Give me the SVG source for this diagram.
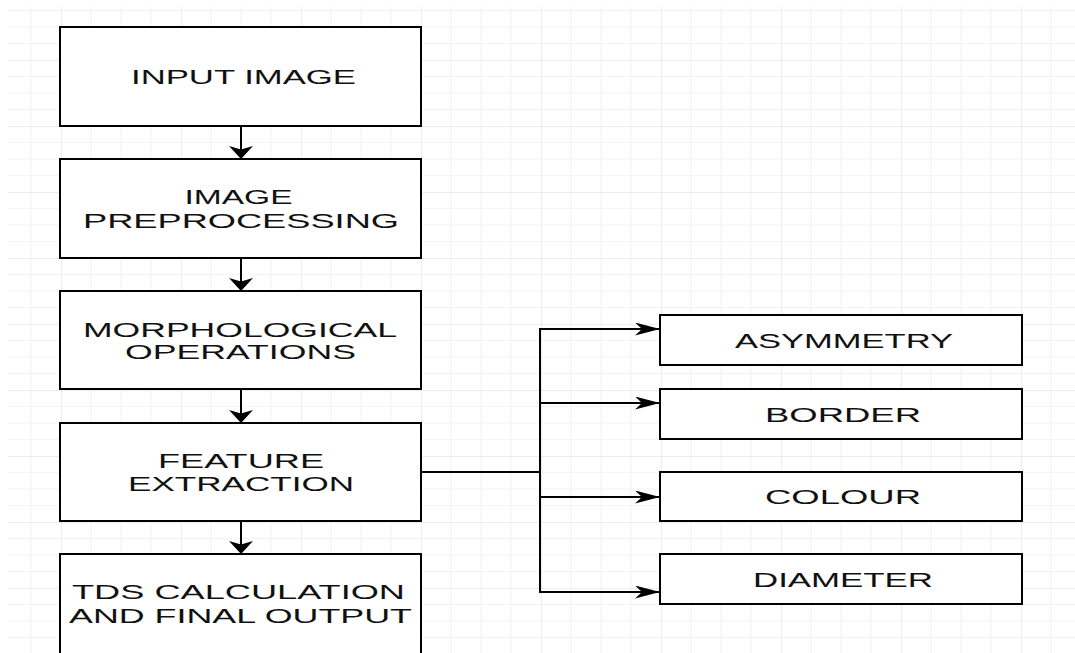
<svg xmlns="http://www.w3.org/2000/svg" width="1075" height="653" viewBox="0 0 1075 653">
  <defs>
    <pattern id="grid" patternUnits="userSpaceOnUse" x="61" y="60" width="120" height="66">
      <path d="M30,0 V66 M60,0 V66 M90,0 V66 M0,16.5 H120 M0,33 H120 M0,49.5 H120" stroke="#f4f4f4" stroke-width="1.2" fill="none"/>
      <path d="M0,0 V66 M0,0 H120" stroke="#e6e6e6" stroke-width="1.4" fill="none"/>
    </pattern>
    <marker id="arrowDown" markerUnits="userSpaceOnUse" viewBox="0 -12 13 24" refX="13" refY="0" markerWidth="13" markerHeight="24" orient="auto">
      <path d="M0,-12 L13,0 L0,12 L3.5,0 Z" fill="#000"/>
    </marker>
    <marker id="arrowRight" markerUnits="userSpaceOnUse" viewBox="0 -6.5 25 13" refX="25" refY="0" markerWidth="25" markerHeight="13" orient="auto">
      <path d="M0,-6.5 L25,0 L0,6.5 L7,0 Z" fill="#000"/>
    </marker>
  </defs>
  <style>
    .box { fill: #ffffff; stroke: #000000; stroke-width: 2; }
    .lbl { font-family: "Liberation Sans", Arial, sans-serif; font-size: 20px; fill: #111111; text-anchor: middle; }
    .edge { fill: none; stroke: #000000; stroke-width: 2; }
  </style>
  <rect x="0" y="0" width="1075" height="653" fill="#ffffff"/>
  <rect x="8" y="7" width="1067" height="646" fill="url(#grid)"/>

  <g id="connectors">
    <line class="edge" x1="241" y1="126" x2="241" y2="159" marker-end="url(#arrowDown)"/>
    <line class="edge" x1="241" y1="258" x2="241" y2="291" marker-end="url(#arrowDown)"/>
    <line class="edge" x1="241" y1="389" x2="241" y2="423" marker-end="url(#arrowDown)"/>
    <line class="edge" x1="241" y1="521" x2="241" y2="554" marker-end="url(#arrowDown)"/>
    <path class="edge" d="M421,472 H540 V329 H660" marker-end="url(#arrowRight)"/>
    <path class="edge" d="M421,472 H540 V403 H660" marker-end="url(#arrowRight)"/>
    <path class="edge" d="M421,472 H540 V497 H660" marker-end="url(#arrowRight)"/>
    <path class="edge" d="M421,472 H540 V592 H660" marker-end="url(#arrowRight)"/>
  </g>

  <g id="input-image">
    <rect class="box" x="60" y="27" width="361" height="99"/>
    <text class="lbl" x="243.5" y="84" textLength="225" lengthAdjust="spacingAndGlyphs">INPUT IMAGE</text>
  </g>
  <g id="image-preprocessing">
    <rect class="box" x="60" y="159" width="361" height="99"/>
    <text class="lbl" x="238.5" y="204" textLength="108" lengthAdjust="spacingAndGlyphs">IMAGE</text>
    <text class="lbl" x="241" y="228" textLength="316" lengthAdjust="spacingAndGlyphs">PREPROCESSING</text>
  </g>
  <g id="morphological-operations">
    <rect class="box" x="60" y="291" width="361" height="98"/>
    <text class="lbl" x="240" y="337" textLength="314" lengthAdjust="spacingAndGlyphs">MORPHOLOGICAL</text>
    <text class="lbl" x="240.5" y="359" textLength="231" lengthAdjust="spacingAndGlyphs">OPERATIONS</text>
  </g>
  <g id="feature-extraction">
    <rect class="box" x="60" y="423" width="361" height="98"/>
    <text class="lbl" x="241" y="468" textLength="166" lengthAdjust="spacingAndGlyphs">FEATURE</text>
    <text class="lbl" x="241" y="491" textLength="226" lengthAdjust="spacingAndGlyphs">EXTRACTION</text>
  </g>
  <g id="tds-calculation">
    <rect class="box" x="60" y="554" width="361" height="110"/>
    <text class="lbl" x="238.5" y="599" textLength="333" lengthAdjust="spacingAndGlyphs">TDS CALCULATION</text>
    <text class="lbl" x="240.5" y="623" textLength="343" lengthAdjust="spacingAndGlyphs">AND FINAL OUTPUT</text>
  </g>

  <g id="asymmetry">
    <rect class="box" x="660" y="315" width="362" height="50"/>
    <text class="lbl" x="844" y="348" textLength="218" lengthAdjust="spacingAndGlyphs">ASYMMETRY</text>
  </g>
  <g id="border">
    <rect class="box" x="660" y="389" width="362" height="50"/>
    <text class="lbl" x="843" y="422" textLength="156" lengthAdjust="spacingAndGlyphs">BORDER</text>
  </g>
  <g id="colour">
    <rect class="box" x="660" y="472" width="362" height="49"/>
    <text class="lbl" x="843" y="504" textLength="156" lengthAdjust="spacingAndGlyphs">COLOUR</text>
  </g>
  <g id="diameter">
    <rect class="box" x="660" y="554" width="362" height="50"/>
    <text class="lbl" x="843" y="587" textLength="180" lengthAdjust="spacingAndGlyphs">DIAMETER</text>
  </g>
</svg>
